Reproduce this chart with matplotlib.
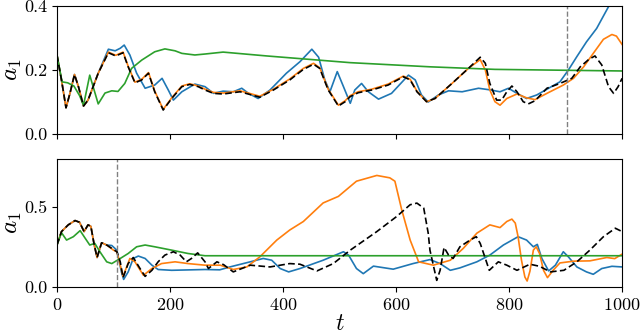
import matplotlib
matplotlib.use("Agg")
import matplotlib.pyplot as plt

plt.rcParams["font.family"] = "serif"
plt.rcParams["font.serif"] = ["cmr10"]
plt.rcParams["mathtext.fontset"] = "cm"
plt.rcParams["axes.formatter.use_mathtext"] = True

# ---- top panel ----
top_blue_t = [0, 8, 16, 23, 31, 38, 47, 55, 73, 91, 103, 112, 119, 129, 141, 156, 173, 186, 197,
              206, 221, 244, 262, 277, 294, 312, 327, 339, 356, 377, 406, 430, 451, 463, 474, 483,
              496, 507, 519, 527, 539, 551, 569, 592, 622, 634, 645, 657, 675, 693, 717, 746, 766,
              784, 799, 814, 831, 849, 873, 890, 905, 920, 937, 955, 976, 1000]
top_blue_a = [0.247, 0.169, 0.082, 0.127, 0.186, 0.148, 0.0875, 0.106, 0.19, 0.265, 0.26, 0.268,
              0.278, 0.247, 0.19, 0.143, 0.153, 0.174, 0.1375, 0.106, 0.132, 0.156, 0.148, 0.127,
              0.134, 0.132, 0.143, 0.127, 0.111, 0.1375, 0.19, 0.226, 0.265, 0.24, 0.169, 0.132,
              0.195, 0.148, 0.096, 0.1375, 0.158, 0.132, 0.109, 0.127, 0.184, 0.169, 0.122, 0.1,
              0.122, 0.135, 0.132, 0.143, 0.138, 0.132, 0.143, 0.127, 0.111, 0.122, 0.146, 0.163,
              0.2, 0.242, 0.288, 0.33, 0.398, 0.46]

top_black_t = [0, 8, 16, 23, 31, 38, 47, 55, 73, 91, 104, 117, 126, 138, 150, 162, 173, 188, 203,
               221, 235, 250, 262, 277, 294, 324, 359, 383, 412, 436, 454, 465, 480, 498, 510, 519,
               533, 557, 586, 613, 625, 637, 654, 669, 699, 728, 749, 758, 766, 778, 787, 796, 805,
               814, 825, 834, 846, 867, 890, 911, 926, 941, 952, 964, 976, 985, 993, 1000]
top_black_a = [0.247, 0.169, 0.082, 0.127, 0.186, 0.148, 0.0875, 0.106, 0.19, 0.254, 0.244, 0.254,
               0.21, 0.16, 0.169, 0.19, 0.132, 0.075, 0.111, 0.148, 0.155, 0.148, 0.1375, 0.127,
               0.125, 0.132, 0.115, 0.1375, 0.169, 0.202, 0.218, 0.205, 0.1375, 0.0875, 0.101,
               0.117, 0.129, 0.1375, 0.153, 0.179, 0.169, 0.132, 0.101, 0.111, 0.158, 0.205, 0.24,
               0.221, 0.158, 0.106, 0.106, 0.132, 0.15, 0.132, 0.101, 0.094, 0.104, 0.143, 0.158,
               0.174, 0.21, 0.233, 0.244, 0.216, 0.148, 0.127, 0.148, 0.174]

top_orange_t = [0, 8, 16, 23, 31, 38, 47, 55, 73, 91, 104, 117, 126, 138, 150, 162, 173, 188, 203,
                221, 235, 250, 262, 277, 294, 324, 359, 383, 412, 436, 454, 465, 480, 498, 510, 519,
                533, 557, 586, 613, 625, 637, 654, 669, 699, 728, 749, 758, 766, 775, 784, 796, 814,
                831, 846, 867, 896, 914, 932, 949, 967, 982, 990, 1000]
top_orange_a = [0.247, 0.169, 0.082, 0.127, 0.186, 0.148, 0.0875, 0.106, 0.19, 0.256, 0.246, 0.256,
                0.212, 0.162, 0.171, 0.192, 0.134, 0.077, 0.113, 0.15, 0.157, 0.15, 0.14, 0.13,
                0.128, 0.135, 0.118, 0.14, 0.172, 0.205, 0.221, 0.207, 0.14, 0.09, 0.104, 0.12,
                0.132, 0.14, 0.156, 0.181, 0.171, 0.134, 0.101, 0.111, 0.158, 0.205, 0.2325, 0.2,
                0.1375, 0.101, 0.09, 0.111, 0.125, 0.113, 0.1075, 0.127, 0.153, 0.174, 0.21, 0.252,
                0.296, 0.311, 0.306, 0.28]

top_green_t = [0, 9, 19, 30, 40, 47, 58, 73, 85, 97, 108, 120, 132, 150, 173, 191, 209, 221, 244,
               262, 294, 371, 519, 660, 775, 1000]
top_green_a = [0.247, 0.163, 0.16, 0.15, 0.12, 0.09, 0.184, 0.094, 0.128, 0.135, 0.133, 0.158,
               0.205, 0.231, 0.257, 0.266, 0.26, 0.252, 0.247, 0.25, 0.256, 0.244, 0.223, 0.21,
               0.202, 0.197]

top_vline = 903

# ---- bottom panel ----
bot_black_t = [0, 8, 20, 32, 40, 48, 55, 60, 66, 71, 79, 88, 97, 106, 112, 117, 126, 135, 147, 156,
               168, 179, 191, 206, 218, 229, 238, 249, 262, 268, 283, 295, 312, 342, 377, 412, 430,
               460, 489, 519, 566, 601, 625, 637, 649, 657, 660, 672, 678, 685, 693, 701, 713, 731,
               742, 749, 758, 765, 781, 796, 814, 837, 854, 873, 897, 920, 943, 967, 988, 1000]
bot_black_a = [0.263, 0.347, 0.389, 0.416, 0.405, 0.347, 0.389, 0.38, 0.263, 0.185, 0.277, 0.263,
               0.242, 0.221, 0.158, 0.059, 0.147, 0.185, 0.116, 0.067, 0.105, 0.158, 0.2, 0.221,
               0.2, 0.158, 0.179, 0.214, 0.158, 0.116, 0.158, 0.14, 0.095, 0.137, 0.126, 0.147,
               0.143, 0.101, 0.147, 0.231, 0.347, 0.441, 0.515, 0.525, 0.494, 0.336, 0.231, 0.042,
               0.105, 0.248, 0.2, 0.179, 0.252, 0.294, 0.315, 0.273, 0.179, 0.105, 0.158, 0.137,
               0.105, 0.143, 0.13, 0.095, 0.105, 0.158, 0.231, 0.315, 0.368, 0.347]

bot_orange_t = [0, 8, 20, 32, 40, 48, 55, 60, 66, 71, 79, 88, 100, 106, 117, 129, 138, 153, 168,
                185, 209, 232, 262, 289, 312, 336, 359, 389, 412, 436, 471, 498, 530, 566, 589, 598,
                610, 625, 640, 666, 696, 719, 743, 766, 784, 796, 805, 811, 816, 822, 828, 832, 837,
                843, 848, 854, 861, 868, 878, 890, 914, 943, 973, 987, 1000]
bot_orange_a = [0.263, 0.347, 0.389, 0.416, 0.405, 0.347, 0.389, 0.38, 0.263, 0.185, 0.277, 0.263,
                0.231, 0.221, 0.067, 0.179, 0.158, 0.074, 0.116, 0.147, 0.158, 0.147, 0.137, 0.137,
                0.11, 0.126, 0.189, 0.294, 0.357, 0.41, 0.526, 0.567, 0.662, 0.698, 0.683, 0.662,
                0.484, 0.294, 0.158, 0.137, 0.168, 0.242, 0.337, 0.389, 0.372, 0.41, 0.425, 0.4,
                0.315, 0.168, 0.063, 0.038, 0.1, 0.231, 0.252, 0.21, 0.105, 0.059, 0.105, 0.151,
                0.162, 0.164, 0.185, 0.178, 0.206]

bot_blue_t = [0, 8, 20, 32, 40, 48, 55, 60, 66, 71, 79, 88, 97, 106, 114, 118, 126, 135, 144, 156,
              168, 179, 203, 262, 288, 306, 342, 365, 380, 395, 410, 430, 471, 507, 516, 530, 542,
              560, 595, 630, 660, 678, 696, 713, 743, 766, 790, 816, 831, 843, 850, 858, 870, 882,
              896, 905, 920, 937, 949, 964, 982, 1000]
bot_blue_a = [0.263, 0.347, 0.389, 0.416, 0.405, 0.347, 0.389, 0.38, 0.263, 0.185, 0.277, 0.263,
              0.26, 0.231, 0.095, 0.048, 0.095, 0.179, 0.194, 0.179, 0.137, 0.11, 0.105, 0.11,
              0.108, 0.126, 0.158, 0.179, 0.168, 0.116, 0.095, 0.116, 0.168, 0.221, 0.2, 0.116,
              0.084, 0.131, 0.112, 0.147, 0.172, 0.147, 0.105, 0.12, 0.158, 0.2, 0.263, 0.315,
              0.294, 0.252, 0.267, 0.179, 0.101, 0.137, 0.221, 0.189, 0.126, 0.095, 0.08, 0.116,
              0.13, 0.126]

bot_green_t = [0, 8, 17, 29, 41, 50, 58, 67, 76, 88, 97, 112, 126, 141, 156, 173, 203, 232, 262,
               1000]
bot_green_a = [0.263, 0.34, 0.294, 0.315, 0.353, 0.305, 0.263, 0.273, 0.221, 0.158, 0.147, 0.179,
               0.21, 0.252, 0.263, 0.252, 0.231, 0.21, 0.196, 0.196]

bot_vline = 107

fig = plt.figure(figsize=(6.4, 3.35), dpi=100)
ax1 = fig.add_axes([0.089, 0.600, 0.883, 0.382])
ax2 = fig.add_axes([0.089, 0.143, 0.883, 0.382])

lw = 1.2
panels = [
    (ax1, [(top_blue_t, top_blue_a), (top_orange_t, top_orange_a), (top_green_t, top_green_a),
           (top_black_t, top_black_a)], top_vline, (0, 0.4), [0.0, 0.2, 0.4]),
    (ax2, [(bot_blue_t, bot_blue_a), (bot_orange_t, bot_orange_a), (bot_green_t, bot_green_a),
           (bot_black_t, bot_black_a)], bot_vline, (0, 0.8), [0.0, 0.5]),
]
for ax, series, vline, ylim, yticks in panels:
    for (t, a), col in zip(series[:3], ["C0", "C1", "C2"]):
        ax.plot(t, a, color=col, lw=lw)
    kt, ka = series[3]
    ax.plot(kt, ka, color="black", lw=lw, ls=(0, (4, 2)))
    ax.axvline(vline, color="gray", lw=1.0, ls="--")
    ax.set_xlim(0, 1000)
    ax.set_ylim(*ylim)
    ax.set_yticks(yticks)
    ax.set_yticklabels(["%.1f" % v for v in yticks])
    ax.set_xticks([0, 200, 400, 600, 800, 1000])
    ax.tick_params(labelsize=13)
    ax.set_ylabel(r"$a_1$", fontsize=18)
    ax.yaxis.set_label_coords(-0.058, 0.5)

ax1.set_xticklabels([])
ax2.set_xlabel(r"$t$", fontsize=17, labelpad=0)

fig.savefig("out.png", dpi=100)
